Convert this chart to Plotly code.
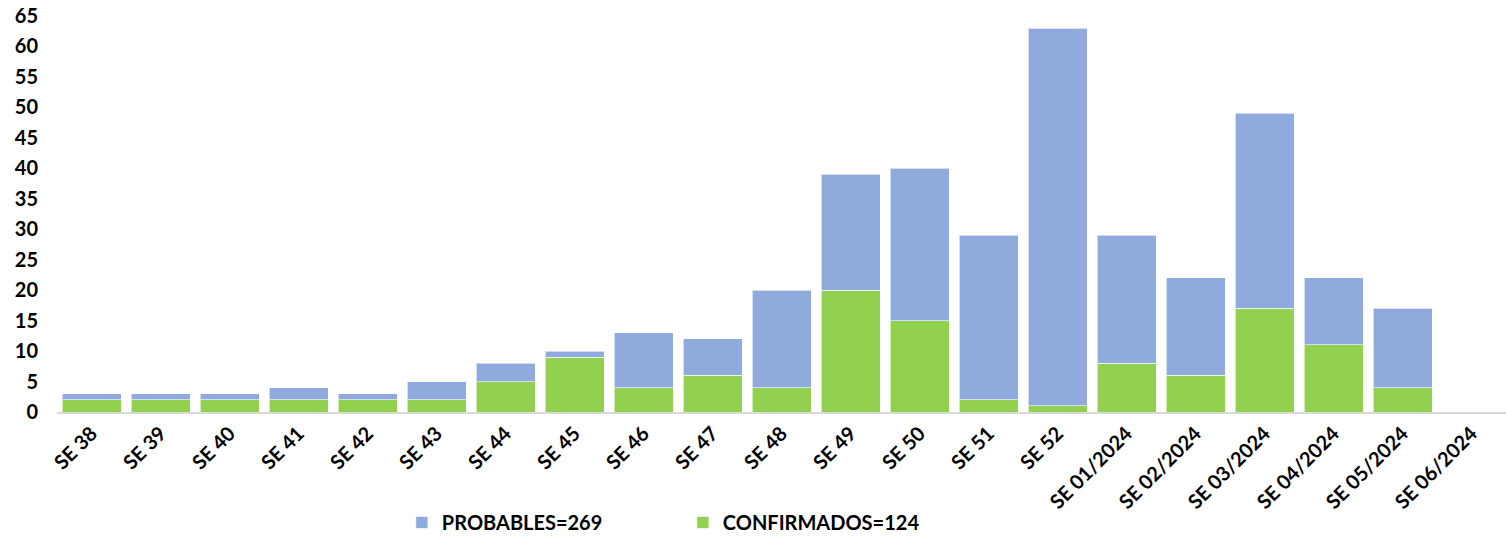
import plotly.graph_objects as go

categories = ["SE 38", "SE 39", "SE 40", "SE 41", "SE 42", "SE 43", "SE 44", "SE 45",
              "SE 46", "SE 47", "SE 48", "SE 49", "SE 50", "SE 51", "SE 52",
              "SE 01/2024", "SE 02/2024", "SE 03/2024", "SE 04/2024", "SE 05/2024", "SE 06/2024"]
confirmados = [2, 2, 2, 2, 2, 2, 5, 9, 4, 6, 4, 20, 15, 2, 1, 8, 6, 17, 11, 4, 0]
probables = [1, 1, 1, 2, 1, 3, 3, 1, 9, 6, 16, 19, 25, 27, 62, 21, 16, 32, 11, 13, 0]
name_prob = "PROBABLES=269"
name_conf = "CONFIRMADOS=124"

FONT = "Lato"

fig = go.Figure()
fig.add_trace(go.Bar(x=categories, y=confirmados, name=name_conf,
                     marker=dict(color="#92D050", line=dict(color="rgba(255,255,255,0.6)", width=1))))
fig.add_trace(go.Bar(x=categories, y=probables, name=name_prob,
                     marker=dict(color="#8FAADC", line=dict(color="rgba(255,255,255,0.6)", width=1))))

fig.update_layout(
    width=1506, height=537,
    barmode="stack", bargap=0.145,
    plot_bgcolor="white", paper_bgcolor="white",
    margin=dict(l=57, r=0, t=16, b=125),
    font=dict(family=FONT, size=20, color="black", weight="bold"),
    showlegend=True,
    legend=dict(orientation="h", traceorder="reversed",
                x=0.238, xanchor="left", yref="container", y=0.027, yanchor="middle",
                font=dict(family=FONT, size=20, color="black", weight="bold"),
                itemwidth=30, entrywidth=236),
    xaxis=dict(showline=True, linecolor="#D9D9D9", linewidth=2, tickangle=-45,
               ticks="", automargin=False,
               tickfont=dict(family=FONT, size=20, weight="bold")),
    yaxis=dict(range=[0, 65], dtick=5, showgrid=False, zeroline=False, showline=False,
               ticks="", ticklabelstandoff=18, automargin=False,
               tickfont=dict(family=FONT, size=20, weight="bold")),
)

fig.write_html("out.html", config={"displayModeBar": False},
               post_script="document.body.style.margin='0';document.body.style.overflow='hidden';")
